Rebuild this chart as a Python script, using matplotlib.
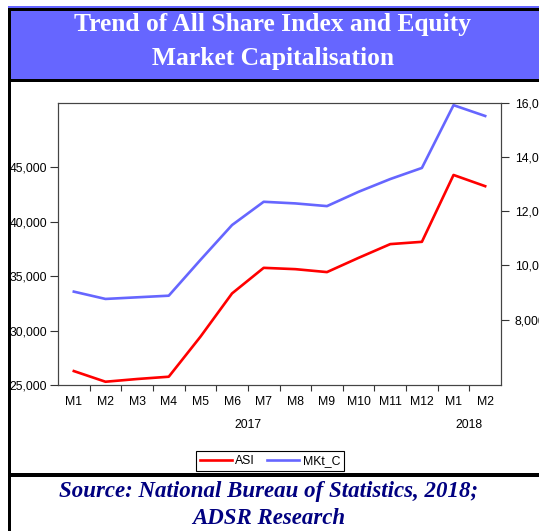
import matplotlib
matplotlib.use("Agg")
import matplotlib.pyplot as plt
from matplotlib.patches import Rectangle
import matplotlib.transforms as mtransforms

months = ["M1", "M2", "M3", "M4", "M5", "M6", "M7", "M8", "M9", "M10", "M11", "M12", "M1", "M2"]
years = ["2017", "2018"]
asi = [26280, 25300, 25550, 25760, 29430, 33410, 35760, 35640, 35370, 36680, 37940, 38150, 44290, 43260]
mkt_c = [9030, 8760, 8820, 8880, 10200, 11490, 12350, 12290, 12190, 12720, 13190, 13600, 15920, 15520]
left_ticks = [25000, 30000, 35000, 40000, 45000]
right_ticks = [8000, 10000, 12000, 14000, 16000]

W, H = 539, 531
fig = plt.figure(figsize=(W / 100, H / 100), dpi=100)
fig.patch.set_facecolor("white")


def px(x, y):
    # pixel coords from top-left -> figure fraction
    return x / W, 1 - y / H


def box(x0, y0, x1, y1, color):
    fx, fy = px(x0, y1)
    fig.add_artist(Rectangle((fx, fy), (x1 - x0) / W, (y1 - y0) / H,
                             transform=fig.transFigure, color=color, lw=0))


# frame around the chart
box(8, 6, 539, 8, "#6666ff")
box(11, 11, 539, 79, "#6666ff")
box(8, 8, 539, 11, "black")
box(8, 79, 539, 82, "black")
box(8, 473, 539, 477, "black")
box(8, 8, 11, 531, "black")

tx, ty = px(273, 25)
fig.text(tx, ty, "Trend of All Share Index and Equity", color="white", ha="center", va="center",
         family="Liberation Serif", weight="bold", fontsize=18.4)
tx, ty = px(273, 58)
fig.text(tx, ty, "Market Capitalisation", color="white", ha="center", va="center",
         family="Liberation Serif", weight="bold", fontsize=18.4)

sx, sy = px(269, 491)
fig.text(sx, sy, "Source: National Bureau of Statistics, 2018;", color="#000080", ha="center", va="center",
         family="Liberation Serif", weight="bold", style="italic", fontsize=16.5)
sx, sy = px(269, 518)
fig.text(sx, sy, "ADSR Research", color="#000080", ha="center", va="center",
         family="Liberation Serif", weight="bold", style="italic", fontsize=16.5)

plt.rcParams["font.family"] = ["Liberation Sans", "DejaVu Sans"]

ax = fig.add_axes([58 / W, (H - 385) / H, 443 / W, 282 / H])
ax2 = ax.twinx()
x = list(range(len(months)))

l1, = ax.plot(x, asi, color="#ff0000", lw=1.9, label="ASI")
l2, = ax2.plot(x, mkt_c, color="#6666ff", lw=1.9, label="MKt_C")

ax.set_xlim(-0.5, len(months) - 0.5)
ax.set_ylim(25000, 50900)
ax2.set_ylim(5580, 16000)

ax.set_yticks(left_ticks)
ax.set_yticklabels([f"{v:,}" for v in left_ticks])
ax2.set_yticks(right_ticks)
ax2.set_yticklabels([f"{v:,}" for v in right_ticks])

ax.set_xticks([i + 0.5 for i in x[:-1]])
ax.set_xticklabels([])
ax.set_xticks(x, minor=True)
ax.set_xticklabels(months, minor=True)
ax.tick_params(axis="x", which="minor", length=0, pad=8, labelsize=8.8)
ax.tick_params(axis="x", which="major", length=4, width=0.8, color="#333333")
ax.tick_params(axis="y", length=6, width=0.8, pad=2, labelsize=8.8, color="#333333")
ax2.tick_params(axis="y", length=6, width=0.8, pad=4, labelsize=8.8, color="#333333")

for a in (ax, ax2):
    for s in a.spines.values():
        s.set_color("#444444")
        s.set_linewidth(0.8)

trans = mtransforms.blended_transform_factory(ax.transData, ax.transAxes)
ax.text(5.5, -0.142, years[0], transform=trans, ha="center", va="center", fontsize=8.8)
ax.text(12.5, -0.142, years[1], transform=trans, ha="center", va="center", fontsize=8.8)

lx, ly = px(270, 461)
leg = fig.legend([l1, l2], ["ASI", "MKt_C"], loc="center", bbox_to_anchor=(lx, ly), ncol=2,
                 fontsize=8.8, frameon=True, fancybox=False, edgecolor="black", framealpha=1,
                 handlelength=2.6, handletextpad=0.3, columnspacing=1.0, borderpad=0.3)
leg.get_frame().set_linewidth(0.8)

fig.savefig("out.png", dpi=100)
